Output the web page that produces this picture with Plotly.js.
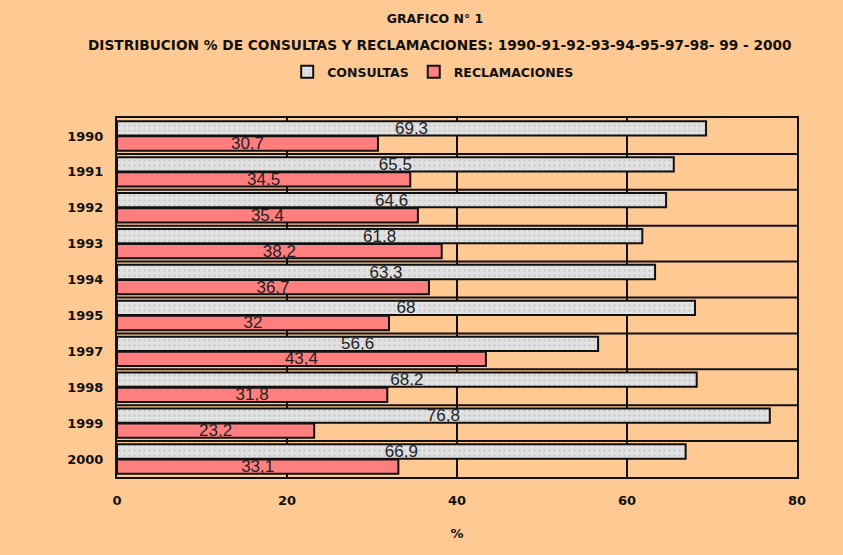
<!DOCTYPE html>
<html><head><meta charset="utf-8">
<script src="https://cdn.plot.ly/plotly-3.0.1.min.js"></script>
<style>html,body{margin:0;padding:0;background:#fff}#chart{width:843px;height:555px}</style>
</head><body><div id="chart"></div>
<script>
const years = ['1990','1991','1992','1993','1994','1995','1997','1998','1999','2000'];
const consultas = [69.3,65.5,64.6,61.8,63.3,68,56.6,68.2,76.8,66.9];
const reclamaciones = [30.7,34.5,35.4,38.2,36.7,32,43.4,31.8,23.2,33.1];
const xTicks = [0,20,40,60,80];

const fmt = v => String(v).replace('.', ',');
const FAM = 'Liberation Sans, Arial, sans-serif';
const WIDE = 'DejaVu Sans, Verdana, sans-serif';
const lblFont = {family:FAM, size:17, color:'#222'};

const traces = [
  {type:'bar', orientation:'h', name:'CONSULTAS', y:years, x:consultas,
   text:consultas.map(fmt), textposition:'inside', insidetextanchor:'middle', textangle:0,
   constraintext:'none', textfont:lblFont, hoverinfo:'x+y',
   marker:{color:'#E2E2E2', line:{color:'#111', width:2},
           pattern:{shape:'.', bgcolor:'#E2E2E2', fgcolor:'#cccccc', size:5, solidity:0.2}}},
  {type:'bar', orientation:'h', name:'RECLAMACIONES', y:years, x:reclamaciones,
   text:reclamaciones.map(fmt), textposition:'inside', insidetextanchor:'middle', textangle:0,
   constraintext:'none', textfont:lblFont, hoverinfo:'x+y',
   marker:{color:'#FF7F7F', line:{color:'#111', width:2}}}
];

const shapes = [];
for (let i = 0; i < years.length - 1; i++) {
  shapes.push({type:'line', xref:'paper', yref:'y', x0:0, x1:1, y0:i+0.5, y1:i+0.5,
               line:{color:'#111', width:2}, layer:'above'});
}

const layout = {
  width:843, height:555,
  paper_bgcolor:'#FFC993', plot_bgcolor:'#FFC993',
  margin:{l:117, r:46, t:118, b:78},
  font:{family:FAM, color:'#111'},
  title:{text:'<b>GRAFICO N° 1</b>', font:{size:12.5, family:WIDE},
         x:435/843, xanchor:'center', y:1-19/555, yanchor:'middle', yref:'container'},
  annotations:[{text:'<b>DISTRIBUCION % DE CONSULTAS Y RECLAMACIONES: 1990-91-92-93-94-95-97-98- 99 - 2000</b>',
                xref:'paper', yref:'paper', x:(440-117)/680, y:1+(118-45)/359, xanchor:'center', yanchor:'middle',
                showarrow:false, font:{size:13.7, family:WIDE}}],
  showlegend:true,
  legend:{orientation:'h', x:0.465, xanchor:'center', y:1+(118-72)/359, yanchor:'middle',
          font:{size:12.5, family:WIDE, weight:'bold'}, bgcolor:'rgba(0,0,0,0)', itemwidth:30, traceorder:'normal'},
  barmode:'group', bargap:0.16, bargroupgap:0.05,
  xaxis:{range:[0,80], tickvals:xTicks, ticktext:xTicks.map(String), showgrid:true,
         gridcolor:'#111', gridwidth:2, zeroline:false, showline:true, mirror:true,
         linecolor:'#111', linewidth:2, ticks:'', ticklen:0, ticklabelstandoff:10,
         tickfont:{size:13, family:WIDE, weight:'bold'},
         title:{text:'<b>%</b>', font:{size:13, family:WIDE}, standoff:22}},
  yaxis:{type:'category', autorange:'reversed', showline:true, mirror:true,
         linecolor:'#111', linewidth:2, showgrid:false, ticks:'', ticksuffix:'  ',
         tickfont:{size:13, family:WIDE, weight:'bold'}},
  shapes:shapes
};

Plotly.newPlot('chart', traces, layout, {displayModeBar:false, staticPlot:true});
</script></body></html>
